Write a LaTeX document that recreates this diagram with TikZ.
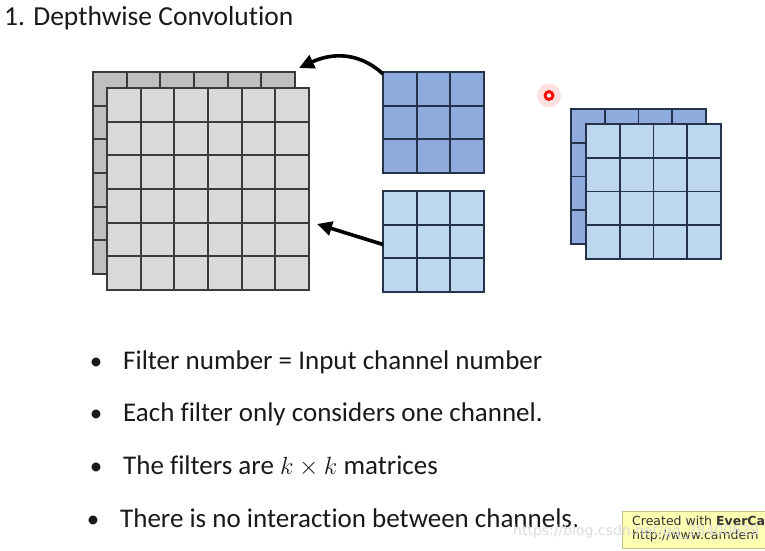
\documentclass[tikz,border=0pt]{standalone}
\usepackage{fontspec}
\setmainfont{Carlito}[Ligatures={NoCommon}]
\newfontfamily\markfont{DejaVu Sans}
\usetikzlibrary{arrows.meta,positioning,calc}
\definecolor{GridInk}{HTML}{3A3A3A}
\definecolor{BlueInk}{HTML}{24324A}
\definecolor{ChanBack}{HTML}{BFBFBF}
\definecolor{ChanFront}{HTML}{D9D9D9}
\definecolor{KernDark}{HTML}{8FAADC}
\definecolor{KernLight}{HTML}{BDD7EE}
\definecolor{StampFill}{HTML}{FFFFB4}
\definecolor{StampEdge}{HTML}{C9C38A}
\tikzset{
    % one square channel, cells are drawn by \cellgrid
    inlayer/.style={
        rectangle,
        draw=GridInk,
        line width=1.7pt,
        minimum width=202pt,
        minimum height=202pt,
        inner sep=0pt,
        outer sep=0pt,
        anchor=north west
    },
    kernel/.style={
        rectangle,
        draw=BlueInk,
        line width=1.7pt,
        minimum width=101pt,
        minimum height=101pt,
        inner sep=0pt,
        outer sep=0pt,
        anchor=north west
    },
    outlayer/.style={
        kernel,
        minimum width=135pt,
        minimum height=135pt
    },
    gridline/.style={
        line width=1.7pt
    },
    kernelarrow/.style={
        -{Triangle[length=15pt,width=14pt]},
        line width=3.6pt,
        color=black
    },
    titletext/.style={
        anchor=base west,
        inner sep=0pt,
        text=black!90,
        font=\fontsize{27.5}{33}\selectfont
    },
    bullettext/.style={
        anchor=base west,
        inner sep=0pt,
        text=black!90,
        font=\fontsize{27}{32}\selectfont
    },
    stampbox/.style={
        rectangle,
        draw=StampEdge,
        fill=StampFill,
        line width=1pt,
        minimum width=150pt,
        minimum height=37pt,
        anchor=north west
    }
}
% #1 node name, #2 cells per side, #3 line colour
\newcommand{\cellgrid}[3]{%
    \pgfmathtruncatemacro{\lastline}{#2-1}
    \foreach \i in {1,...,\lastline}{
        \draw[gridline, #3] ($(#1.north west)!\i/#2!(#1.north east)$) -- ($(#1.south west)!\i/#2!(#1.south east)$);
        \draw[gridline, #3] ($(#1.north west)!\i/#2!(#1.south west)$) -- ($(#1.north east)!\i/#2!(#1.south east)$);
    }
}
\newcommand{\bul}{\llap{{\fontsize{25}{28}\selectfont\textbullet}\hskip 21pt}}

\begin{document}
\begin{tikzpicture}[x=1pt, y=-1pt]
    \useasboundingbox (0,0) rectangle (765,550);

    \node[titletext] (title) at (4,25) {1. Depthwise Convolution};

    % input channels
    \node[inlayer, fill=ChanBack] (inback) at (93,72) {};
    \cellgrid{inback}{6}{GridInk}
    \node[inlayer, fill=ChanFront, below right=16pt and 14pt of inback.north west] (infront) {};
    \cellgrid{infront}{6}{GridInk}

    % one k x k filter per channel
    \node[kernel, fill=KernDark] (ktop) at (383,72) {};
    \cellgrid{ktop}{3}{BlueInk}
    \node[kernel, fill=KernLight, below=18pt of ktop.south west, anchor=north west] (kbot) {};
    \cellgrid{kbot}{3}{BlueInk}

    \draw[kernelarrow] ([yshift=-2pt]ktop.north west) .. controls +(-26,-24) and +(30,-14) .. ([xshift=4pt,yshift=4pt]inback.north east);
    \draw[kernelarrow] ([yshift=-3pt]kbot.west) -- ([xshift=8pt,yshift=-35pt]infront.east);

    % output channels
    \node[outlayer, fill=KernDark] (outback) at (571,109) {};
    \cellgrid{outback}{4}{BlueInk}
    \node[outlayer, fill=KernLight, below right=15pt and 15pt of outback.north west] (outfront) {};
    \cellgrid{outfront}{4}{BlueInk}

    % pointer
    \node[circle, fill=red, opacity=0.12, minimum size=24pt] (glow) at (549,95.5) {};
    \node[circle, fill=red!92!orange, minimum size=11pt, inner sep=0pt] (cursor) at (glow) {};
    \fill[white] (cursor) circle (2.2);

    \node[bullettext] (b1) at (123,369) {\bul Filter number = Input channel number};
    \node[bullettext] (b2) at (123,421) {\bul Each filter only considers one channel.};
    \node[bullettext] (b3) at (123,474) {\bul The filters are $k\times k$ matrices};
    \node[bullettext] (b4) at (120,527) {\bul There is no interaction between channels.};

    % screen stamp, cut by the right edge
    \begin{scope}
        \clip (0,0) rectangle (765,550);
        \node[stampbox] (stamp) at (622,511) {};
        \node[anchor=north west, inner sep=0pt, align=left, font=\markfont\fontsize{12.5}{14}\selectfont, text=black!80]
            (stamptext) at ([xshift=10pt,yshift=-5pt]stamp.north west) {Created with \textbf{EverCa}\\http://www.camdem};
        \node[anchor=base west, inner sep=0pt, font=\markfont\fontsize{14}{16}\selectfont, text=gray!28]
            (csdn) at (513,535) {https://blog.csdn.net/qq\_28400629};
    \end{scope}
\end{tikzpicture}
\end{document}
